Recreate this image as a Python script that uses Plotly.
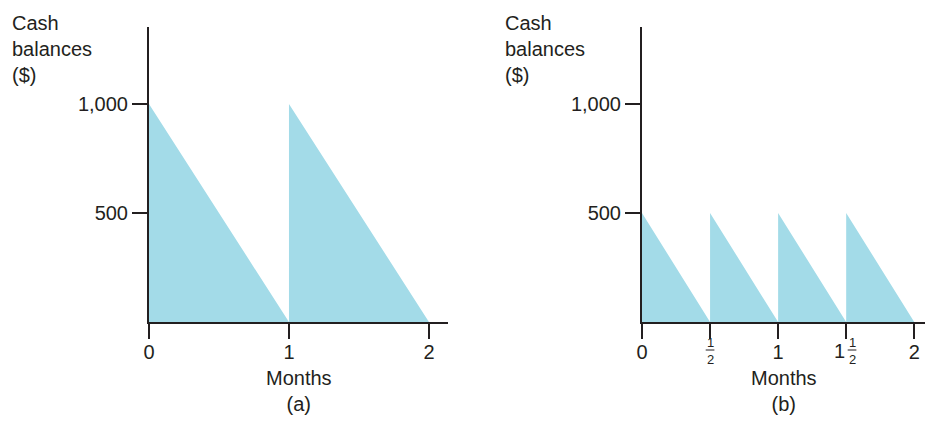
# two cash-balance sawtooth panels: (a) monthly, (b) half-monthly

import plotly.graph_objects as go

# ----------------------------------
# data

months_a = [0, 1, 1, 2]
cash_a = [1000, 0, 1000, 0]

months_b = [0, 0.5, 0.5, 1, 1, 1.5, 1.5, 2]
cash_b = [500, 0, 500, 0, 500, 0, 500, 0]

xticks_a = [0, 1, 2]
xlabels_a = ['0', '1', '2']
xticks_b = [0, 0.5, 1, 1.5, 2]
xlabels_b = ['0', '', '1', '', '2']   # halves drawn as stacked fractions below
yticks = [500, 1000]
ylabels = ['500', '1,000']

# page body adds an 8px margin, so size the figure to fit inside the window
OFF = 8
W, H = 933 - 2 * OFF, 424 - 2 * OFF
FILL = '#a3dbe8'
INK = '#231f20'
FONT = 'Liberation Sans, Arial, sans-serif'


def px(x):
    # window pixel -> paper fraction
    return (x - OFF) / W


def py(y):
    return (H - (y - OFF)) / H


def triangles(xs, ys):
    # split the sawtooth into closed triangles (start high, drop to zero)
    tx, ty = [], []
    for i in range(0, len(xs), 2):
        tx += [xs[i], xs[i + 1], xs[i], xs[i], None]
        ty += [ys[i], ys[i + 1], 0, ys[i], None]
    return tx, ty


fig = go.Figure()

xa, ya = triangles(months_a, cash_a)
fig.add_trace(go.Scatter(x=xa, y=ya, fill='toself', fillcolor=FILL,
    mode='lines', line={'width': 0}, xaxis='x', yaxis='y', hoverinfo='skip'))
xb, yb = triangles(months_b, cash_b)
fig.add_trace(go.Scatter(x=xb, y=yb, fill='toself', fillcolor=FILL,
    mode='lines', line={'width': 0}, xaxis='x2', yaxis='y2', hoverinfo='skip'))

axis_common = dict(showline=True, linecolor=INK, linewidth=2, ticks='outside',
    ticklen=15, tickwidth=2, tickcolor=INK, showgrid=False, zeroline=False,
    tickfont={'size': 20, 'color': INK, 'family': FONT}, fixedrange=True,
    automargin=False)

fig.update_layout(
    width=W, height=H,
    margin=dict(l=0, r=0, t=0, b=0),
    paper_bgcolor='white', plot_bgcolor='white',
    showlegend=False,
    font={'family': FONT, 'size': 20, 'color': INK},
    xaxis=dict(domain=[px(149), px(448)], range=[0, 2.136], anchor='y',
        tickvals=xticks_a, ticktext=xlabels_a, ticklabelstandoff=-4,
        **axis_common),
    yaxis=dict(domain=[py(322), py(27)], range=[0, 1353], anchor='x',
        tickvals=yticks, ticktext=ylabels, **axis_common),
    xaxis2=dict(domain=[px(642), 1.0], range=[0, 2.079], anchor='y2',
        tickvals=xticks_b, ticktext=xlabels_b, ticklabelstandoff=-4,
        **axis_common),
    yaxis2=dict(domain=[py(322), py(27)], range=[0, 1353], anchor='x2',
        tickvals=yticks, ticktext=ylabels, **axis_common),
)

# y titles, top left of each panel
for xpx in [10, 503]:
    fig.add_annotation(text='Cash<br>balances<br>($)', xref='paper', yref='paper',
        x=px(xpx), y=py(10), xanchor='left', yanchor='top', align='left',
        showarrow=False, font={'size': 20})

# x titles
for xd, tag in [('x domain', '(a)'), ('x2 domain', '(b)')]:
    fig.add_annotation(text='Months<br>' + tag, xref=xd, yref='paper',
        x=0.5, y=py(391), xanchor='center', yanchor='middle',
        showarrow=False, font={'size': 20})

# stacked halves on panel (b)
frac_pos = [0.5, 1.543]
for xf in frac_pos:
    fig.add_annotation(text='1<br>2', xref='x2', yref='paper', x=xf, y=py(351),
        showarrow=False, font={'size': 13, 'color': INK}, xanchor='center',
        yanchor='middle')
    fig.add_shape(type='line', xref='x2', yref='paper',
        x0=xf - 0.032, x1=xf + 0.032, y0=py(350), y1=py(350),
        line={'color': INK, 'width': 1})
fig.add_annotation(text='1', xref='x2', yref='paper', x=1.45, y=py(351),
    showarrow=False, font={'size': 20}, xanchor='center', yanchor='middle')

fig.write_html("out.html")
